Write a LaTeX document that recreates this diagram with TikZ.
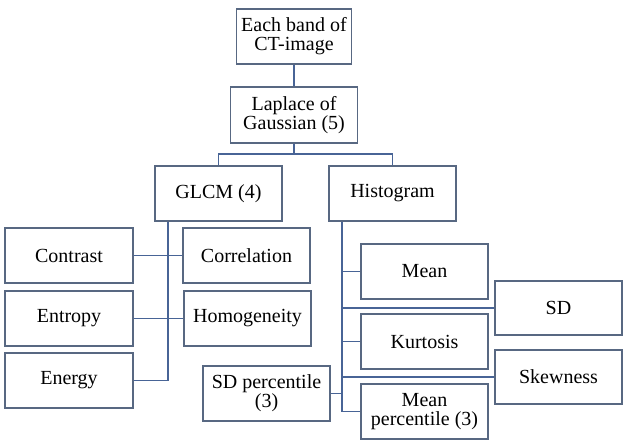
\documentclass[tikz,border=0pt]{standalone}
\usepackage{fontspec}
\setmainfont{Liberation Serif}
\begin{document}
\begin{tikzpicture}[x=1pt,y=-1pt,
  bx/.style={draw=boxc, line width=1.9pt, fill=white, inner sep=0pt, align=center,
    minimum width=127pt, minimum height=55pt, font=\fontsize{20}{19}\selectfont},
  ln/.style={draw=linec, line width=1.9pt}]
\definecolor{boxc}{RGB}{88,104,130}
\definecolor{linec}{RGB}{72,100,150}
\useasboundingbox (0,0) rectangle (627,445);
\node[bx, minimum width=115pt] (top) at (294,36.5) {Each band of\\CT-image};
\node[bx, minimum height=56pt] (lap) at (294,115) {Laplace of\\Gaussian (5)};
\node[bx] (glcm) at (218.5,193.5) {GLCM (4)};
\node[bx] (hist) at (392.5,193.5) {Histogram};
\node[bx, minimum width=128pt] (contrast) at (69,255.5) {Contrast};
\node[bx] (correl) at (246.5,255.5) {Correlation};
\node[bx, minimum width=128pt] (entropy) at (69,318.5) {Entropy};
\node[bx] (homog) at (247.5,318.5) {Homogeneity};
\node[bx, minimum width=128pt] (energy) at (69,380.5) {Energy};
\node[bx] (mean) at (424.5,271.5) {Mean};
\node[bx, minimum height=54pt] (sd) at (558.5,308) {SD};
\node[bx] (kurt) at (424.5,341.5) {Kurtosis};
\node[bx, minimum height=54pt] (skew) at (558.5,377) {Skewness};
\node[bx] (sdp) at (266.5,393.5) {SD percentile\\(3)};
\node[bx] (meanp) at (424.5,411.5) {Mean\\percentile (3)};
\coordinate (br) at (294,154);
\coordinate (gv) at (168,0);
\coordinate (hv) at (342,0);
\draw[ln] (top.south) -- (lap.north);
\draw[ln] (lap.south) -- (br);
\draw[ln] (glcm.north) -- (glcm.north |- br) -- (hist.north |- br) -- (hist.north);
\draw[ln] (glcm.south -| gv) -- (gv |- energy.east) -- (energy.east);
\draw[ln] (contrast.east) -- (correl.west);
\draw[ln] (entropy.east) -- (homog.west);
\draw[ln] (hist.south -| hv) -- (hv |- meanp.west) -- (meanp.west);
\draw[ln] (mean.west) -- (hv |- mean.west);
\draw[ln] (sd.west) -- (hv |- sd.west);
\draw[ln] (kurt.west) -- (hv |- kurt.west);
\draw[ln] (skew.west) -- (hv |- skew.west);
\draw[ln] (sdp.east) -- (hv |- sdp.east);
\end{tikzpicture}
\end{document}
